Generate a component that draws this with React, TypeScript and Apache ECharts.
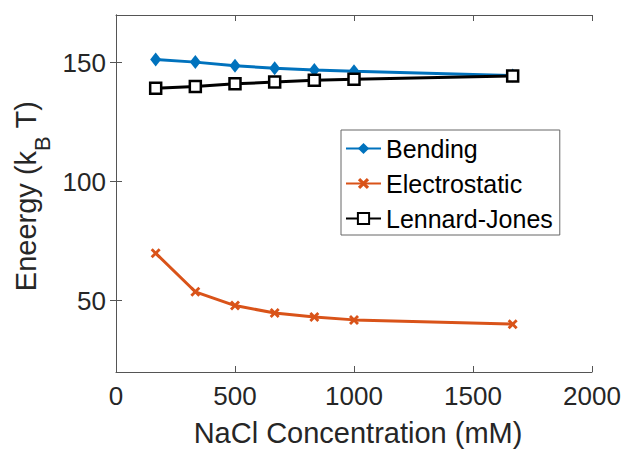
import React, { useEffect, useRef } from "react";
import * as echarts from "echarts";

const concentrations = [166.7, 333.3, 500, 666.7, 833.3, 1000, 1666.7];
const bending = [151.3, 150.2, 148.7, 147.6, 146.9, 146.4, 144.6];
const electrostatic = [69.9, 53.7, 47.9, 44.8, 43.1, 41.9, 40.1];
const lennardJones = [139.2, 140.0, 141.1, 141.8, 142.6, 143.0, 144.4];
const yTicks = [50, 100, 150];
const seriesNames = ["Bending", "Electrostatic", "Lennard-Jones"];

const FONT = "'Liberation Sans', Arial, Helvetica, sans-serif";
const AXIS_COLOR = "#555";
const TEXT_COLOR = "#262626";

const X_MARK =
  "path://M0,2 L2,0 L5,3 L8,0 L10,2 L7,5 L10,8 L8,10 L5,7 L2,10 L0,8 L3,5 Z";

export default function App() {
  const ref = useRef<HTMLDivElement>(null);
  useEffect(() => {
    if (!ref.current) return;
    const chart = echarts.init(ref.current, null, { renderer: "svg" });
    const pair = (ys: number[]) => concentrations.map((x, i) => [x, ys[i]]);
    const axisLine = { show: true, lineStyle: { color: AXIS_COLOR, width: 1 } };
    const tick = { show: true, inside: true, length: 6, lineStyle: { color: AXIS_COLOR, width: 1 } };
    const plain = (v: number) => String(v);
    chart.setOption({
      animation: false,
      backgroundColor: "#fff",
      grid: { left: 116, right: 44, top: 15, bottom: 74, containLabel: false },
      xAxis: [
        {
          type: "value",
          min: 0,
          max: 2000,
          interval: 500,
          position: "bottom",
          axisLine,
          axisTick: tick,
          splitLine: { show: false },
          axisLabel: { color: TEXT_COLOR, fontSize: 26, fontFamily: FONT, margin: 11, formatter: plain },
          name: "NaCl Concentration (mM)",
          nameLocation: "middle",
          nameGap: 46,
          nameTextStyle: { color: TEXT_COLOR, fontSize: 29, fontFamily: FONT, padding: [0, 0, 0, 8] },
        },
        {
          type: "value",
          min: 0,
          max: 2000,
          interval: 500,
          position: "top",
          axisLine,
          axisTick: tick,
          splitLine: { show: false },
          axisLabel: { show: false },
        },
      ],
      yAxis: [
        {
          type: "value",
          min: 20,
          max: 170,
          position: "left",
          axisLine,
          axisTick: { ...tick, customValues: yTicks },
          splitLine: { show: false },
          axisLabel: {
            color: TEXT_COLOR,
            fontSize: 26,
            fontFamily: FONT,
            margin: 10,
            customValues: yTicks,
            formatter: plain,
          },
        },
        {
          type: "value",
          min: 20,
          max: 170,
          position: "right",
          axisLine,
          axisTick: { ...tick, customValues: yTicks },
          splitLine: { show: false },
          axisLabel: { show: false },
        },
      ],
      legend: {
        orient: "vertical",
        left: 341,
        top: 130,
        data: seriesNames,
        backgroundColor: "#fff",
        borderColor: "#666",
        borderWidth: 1,
        borderRadius: 0,
        padding: [6, 7, 4, 4],
        itemWidth: 35,
        itemHeight: 14,
        itemGap: 10,
        textStyle: { color: "#000", fontSize: 25, fontFamily: FONT },
      },
      graphic: [
        {
          type: "text",
          x: 26,
          y: 196,
          rotation: Math.PI / 2,
          style: {
            text: "Eneergy (k{s|B} T)",
            align: "center",
            verticalAlign: "middle",
            fill: TEXT_COLOR,
            fontSize: 29,
            fontFamily: FONT,
            rich: {
              s: { fontSize: 22, fontFamily: FONT, fill: TEXT_COLOR, padding: [32, 0, 0, 0] },
            },
          },
        },
      ],
      series: [
        {
          name: seriesNames[0],
          type: "line",
          data: pair(bending),
          color: "#0072BD",
          lineStyle: { width: 3, color: "#0072BD" },
          symbol: "diamond",
          symbolSize: [11, 14],
          itemStyle: { color: "#0072BD" },
          z: 2,
        },
        {
          name: seriesNames[1],
          type: "line",
          data: pair(electrostatic),
          color: "#D95319",
          lineStyle: { width: 3, color: "#D95319" },
          symbol: X_MARK,
          symbolSize: 10,
          itemStyle: { color: "#D95319" },
          z: 3,
        },
        {
          name: seriesNames[2],
          type: "line",
          data: pair(lennardJones),
          color: "#000",
          lineStyle: { width: 3, color: "#000" },
          symbol: "rect",
          symbolSize: 11,
          itemStyle: { color: "#fff", borderColor: "#000", borderWidth: 2.5 },
          z: 4,
        },
      ],
    });
    return () => chart.dispose();
  }, []);
  return (
    <div
      ref={ref}
      style={{ position: "fixed", left: 0, top: 0, width: 636, height: 452, background: "#fff" }}
    />
  );
}
